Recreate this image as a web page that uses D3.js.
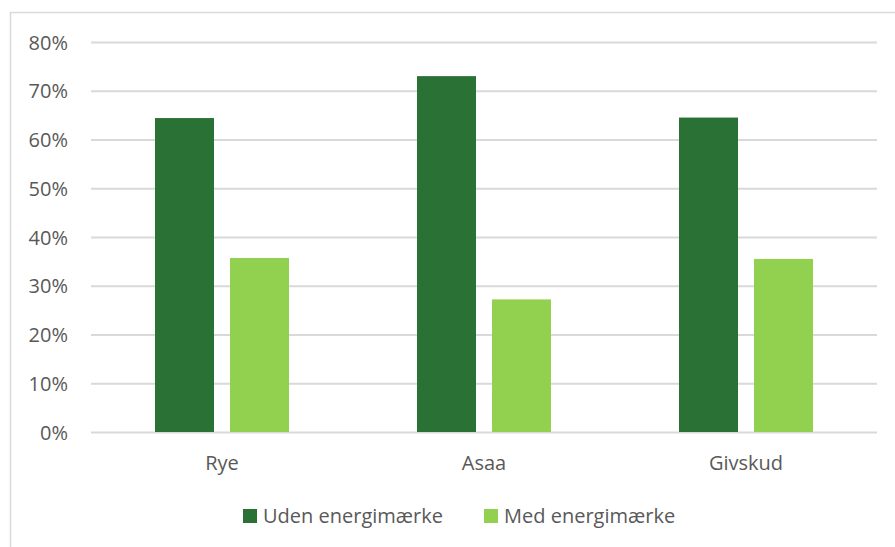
<!DOCTYPE html>
<html><head><meta charset="utf-8">
<script src="https://cdn.jsdelivr.net/npm/d3@7"></script>
<style>body{margin:0;background:#fff;} svg{display:block;}</style>
</head><body>
<svg id="c" width="895" height="547"></svg>
<script>
const categories = ["Rye", "Asaa", "Givskud"];
const seriesNames = ["Uden energimærke", "Med energimærke"];
const udenValues = [0.644, 0.73, 0.645];
const medValues = [0.357, 0.272, 0.355];
const yTicks = [0, 0.1, 0.2, 0.3, 0.4, 0.5, 0.6, 0.7, 0.8];
const colors = ["#2a7136", "#92d050"];

(function () {
const svg = d3.select("#c");
const font = "'Open Sans', sans-serif";
const txt = "#595959";
const fs = "20px";

// outer border
svg.append("rect").attr("x", 10.5).attr("y", 12.5).attr("width", 900).attr("height", 600)
  .attr("fill", "none").attr("stroke", "#d9d9d9").attr("stroke-width", 1.5);

const mLeft = 91, mRight = 877, mTop = 42, mBottom = 432;
const x = d3.scaleBand().domain(categories).range([mLeft, mRight]);
const y = d3.scaleLinear().domain([0, 0.8]).range([mBottom, mTop]);

const yAxis = d3.axisLeft(y).tickValues(yTicks).tickFormat(d3.format(".0%")).tickSize(-(mRight - mLeft)).tickPadding(23);
const ga = svg.append("g").attr("transform", `translate(${mLeft},0)`).call(yAxis);
ga.select(".domain").remove();
ga.selectAll("line").attr("stroke", "#d9d9d9").attr("stroke-width", 2);
ga.selectAll("text").attr("fill", txt).style("font-family", font).style("font-size", fs).attr("dy", "0.35em");

const xAxis = d3.axisBottom(x).tickSize(0).tickPadding(24);
const gx = svg.append("g").attr("transform", `translate(0,${mBottom})`).call(xAxis);
gx.select(".domain").remove();
gx.selectAll("text").attr("fill", txt).style("font-family", font).style("font-size", fs);

const barW = 59, gap = 16;
const series = [udenValues, medValues];
series.forEach((vals, si) => {
  svg.append("g").selectAll("rect").data(vals).join("rect")
    .attr("x", (d, i) => x(categories[i]) + x.bandwidth() / 2 + (si === 0 ? -(gap / 2 + barW) : gap / 2))
    .attr("y", d => y(d))
    .attr("width", barW)
    .attr("height", d => y(0) - y(d))
    .attr("fill", colors[si]);
});

// legend
const legendPos = [243, 484];
const lg = svg.append("g");
seriesNames.forEach((n, i) => {
  lg.append("rect").attr("x", legendPos[i]).attr("y", 509).attr("width", 14).attr("height", 14).attr("fill", colors[i]);
  lg.append("text").attr("x", legendPos[i] + 20).attr("y", 516).attr("dy", "0.35em")
    .attr("fill", txt).style("font-family", font).style("font-size", fs).text(n);
});
})();
</script>
</body></html>
